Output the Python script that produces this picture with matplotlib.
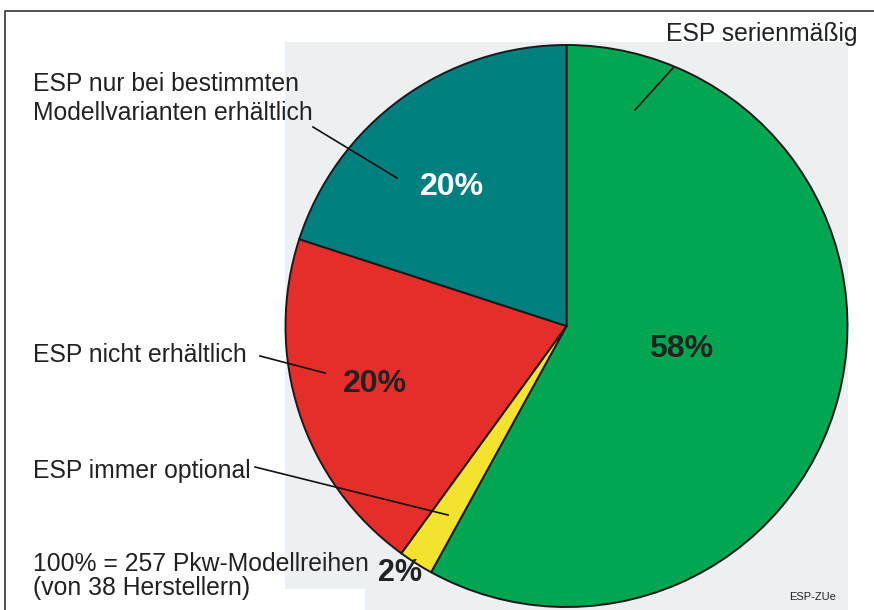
import matplotlib
matplotlib.use("Agg")
import matplotlib.pyplot as plt
from matplotlib.patches import Rectangle

# Data
categories = ["ESP serienmäßig", "ESP immer optional", "ESP nicht erhältlich",
              "ESP nur bei bestimmten\nModellvarianten erhältlich"]
values = [58, 2, 20, 20]
pct_labels = ["58%", "2%", "20%", "20%"]
colors = ["#00a651", "#f4e22c", "#e52e29", "#007f7f"]
pct_colors = ["#222222", "#222222", "#222222", "#ffffff"]
note = "100% = 257 Pkw-Modellreihen\n(von 38 Herstellern)"
source = "ESP-ZUe"

W, H = 874, 610
plt.rcParams["font.family"] = ["Liberation Sans", "DejaVu Sans"]
fig = plt.figure(figsize=(W / 100, H / 100), dpi=100)
ax = fig.add_axes([0, 0, 1, 1])

def Y(py):
    return H - py

# light background panel
ax.add_patch(Rectangle((285, Y(610)), 563, 568, facecolor="#edf0f3", edgecolor="none", zorder=0))
ax.add_patch(Rectangle((285, Y(610)), 80, 21, facecolor="white", edgecolor="none", zorder=0.5))

# frame
ax.plot([5, 5, W], [Y(H), Y(11), Y(11)], color="#333333", lw=1.2, zorder=5, solid_capstyle="butt")

cx, cy, r = 566.5, Y(326), 281
wedges, _ = ax.pie(values, colors=colors, startangle=90, counterclock=False,
                   center=(cx, cy), radius=r, frame=True,
                   wedgeprops=dict(edgecolor="#1a1a1a", linewidth=1.4))
ax.set_xlim(0, W)
ax.set_ylim(0, H)
ax.set_aspect("equal")
ax.axis("off")

# percentage labels
pct_pos = [(681, 349), (400, 573), (375, 384), (452, 187)]
pct_sizes = [23, 22, 23, 23]
for lab, (px, py), c, s in zip(pct_labels, pct_pos, pct_colors, pct_sizes):
    ax.text(px, Y(py), lab, ha="center", va="center", fontsize=s,
            fontweight="bold", color=c, zorder=6)

# category labels
fs = 17.8
txt = "#222222"

def multiline(x, y_first, text, spacing, **kw):
    for i, line in enumerate(text.split("\n")):
        ax.text(x, Y(y_first + i * spacing), line, va="baseline", fontsize=fs, color=txt, **kw)

multiline(762, 41, categories[0], 0, ha="center")
multiline(33, 91, categories[3], 29, ha="left")
multiline(33, 362, categories[2], 0, ha="left")
multiline(33, 478, categories[1], 0, ha="left")
multiline(33, 571, note, 24, ha="left")
ax.text(813, Y(600), source, ha="center", va="baseline", fontsize=8, color=txt)

# leader lines
lines = [((673, 68), (635, 110)),
         ((313, 127), (397, 178)),
         ((260, 356), (325, 373)),
         ((255, 467), (448, 515))]
for (x0, y0), (x1, y1) in lines:
    ax.plot([x0, x1], [Y(y0), Y(y1)], color="#111111", lw=1.2, zorder=6)

fig.savefig("out.png", dpi=100)
